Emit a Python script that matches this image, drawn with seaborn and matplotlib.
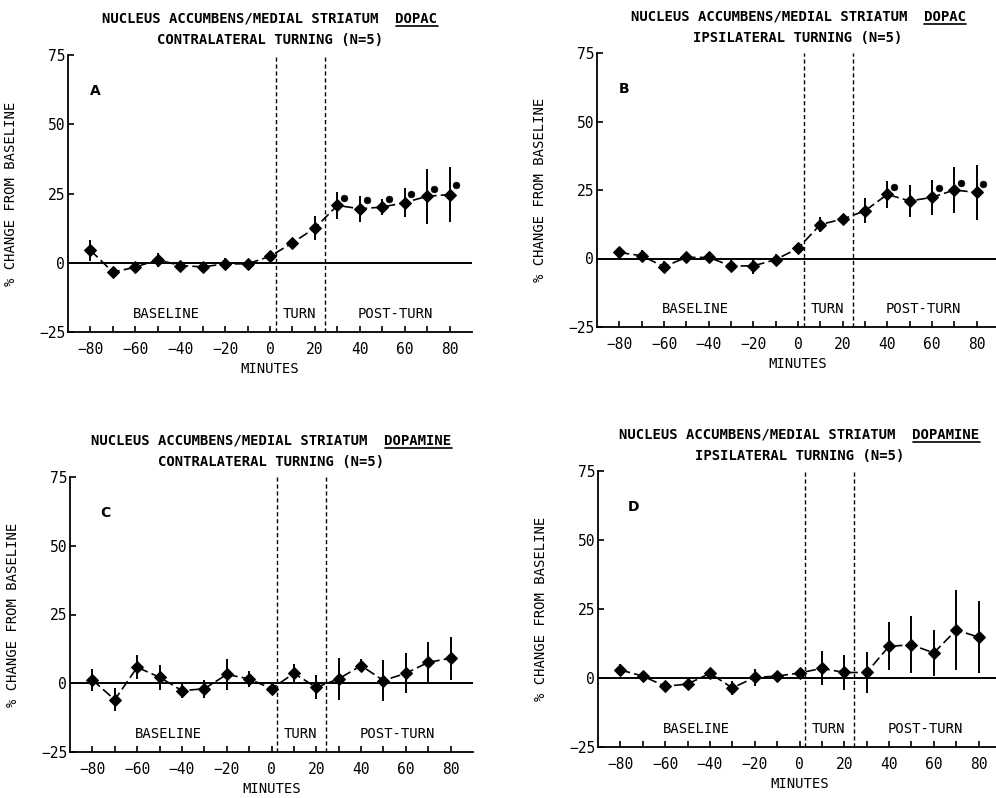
import matplotlib
matplotlib.use("Agg")
import matplotlib.pyplot as plt
import seaborn as sns
import numpy as np
import pandas as pd
from matplotlib.lines import Line2D

# ---------------- data ----------------
minutes = [-80, -70, -60, -50, -40, -30, -20, -10, 0, 10, 20, 30, 40, 50, 60, 70, 80]

a_mean = [4.5, -3.4, -1.6, 1.1, -1.0, -1.5, -0.4, -0.4, 2.3, 7.2, 12.5, 20.7, 19.5, 20.1, 21.7, 24.0, 24.6]
a_err = [3.8, 2.0, 2.0, 2.5, 1.5, 1.0, 2.0, 1.0, 1.0, 1.0, 4.2, 5.0, 4.7, 3.0, 5.2, 10.0, 10.0]
a_sig_x = [33, 43, 53, 63, 73, 83]
a_sig_y = [23.4, 22.5, 23.1, 24.9, 26.5, 28.0]

b_mean = [2.2, 1.0, -3.0, 0.4, 0.4, -2.7, -2.7, -0.4, 3.7, 12.4, 14.4, 17.4, 23.4, 21.0, 22.3, 25.0, 24.1]
b_err = [2.0, 2.0, 2.0, 1.0, 2.0, 2.0, 3.0, 2.0, 2.0, 2.8, 1.0, 4.5, 4.9, 6.0, 6.5, 8.3, 10.0]
b_sig_x = [43, 63, 73, 83]
b_sig_y = [26.2, 25.6, 27.7, 27.3]

c_mean = [1.2, -6.0, 5.8, 2.2, -2.7, -2.0, 3.2, 1.6, -2.0, 3.6, -1.5, 1.6, 6.4, 1.0, 3.6, 7.6, 9.1]
c_err = [4.0, 4.2, 4.3, 4.5, 2.5, 3.3, 5.7, 3.0, 2.0, 3.4, 4.4, 7.7, 2.4, 7.4, 7.3, 7.3, 7.9]

d_mean = [2.9, 0.7, -3.0, -2.2, 1.7, -3.6, 0.2, 0.7, 1.8, 3.5, 2.0, 2.0, 11.5, 12.0, 9.1, 17.4, 14.8]
d_err = [2.0, 2.0, 1.5, 2.0, 2.0, 2.5, 3.0, 2.0, 1.5, 6.2, 6.2, 7.3, 8.7, 10.3, 8.4, 14.6, 13.0]

panel_letters = ["A", "B", "C", "D"]
title_prefix = "NUCLEUS ACCUMBENS/MEDIAL STRIATUM  "
title_compounds = ["DOPAC", "DOPAC", "DOPAMINE", "DOPAMINE"]
title_line2 = ["CONTRALATERAL TURNING (N=5)", "IPSILATERAL TURNING (N=5)",
               "CONTRALATERAL TURNING (N=5)", "IPSILATERAL TURNING (N=5)"]
phase_labels = ["BASELINE", "TURN", "POST-TURN"]
phase_x = [-46, 13, 56]
phase_bounds = [2.5, 24.5]
y_ticks = [-25, 0, 25, 50, 75]
x_ticks = [-80, -60, -40, -20, 0, 20, 40, 60, 80]
y_label = "% CHANGE FROM BASELINE"
x_label = "MINUTES"

# ---------------- style ----------------
sns.set_style("ticks")
plt.rcParams['font.family'] = ['DejaVu Sans Mono', 'DejaVu Sans']
plt.rcParams['axes.linewidth'] = 1.3
for k in ['text.color', 'axes.labelcolor', 'xtick.color', 'ytick.color', 'axes.edgecolor']:
    plt.rcParams[k] = 'black'

W, H = 996, 798
fig = plt.figure(figsize=(W / 100, H / 100), dpi=100)

# axes boxes in pixels: left, right, top, bottom
boxes = [(68, 472, 55, 332), (597, 999, 53, 327), (70, 473, 477, 752), (598, 1001, 471, 747)]
means = [a_mean, b_mean, c_mean, d_mean]
errs = [a_err, b_err, c_err, d_err]
sigs = [(a_sig_x, a_sig_y), (b_sig_x, b_sig_y), None, None]

renderer = fig.canvas.get_renderer()
for i in range(4):
    l, r, t, b = boxes[i]
    ax = fig.add_axes([l / W, 1 - b / H, (r - l) / W, (b - t) / H])
    df = pd.DataFrame({"minutes": minutes, "change": means[i], "err": errs[i]})
    ax.errorbar(df["minutes"], df["change"], yerr=df["err"], fmt='none',
                ecolor='black', elinewidth=1.4, capsize=0, zorder=3)
    sns.lineplot(data=df, x="minutes", y="change", ax=ax, color='black',
                 marker='D', markersize=6.5, markeredgecolor='black',
                 linestyle=(0, (6, 2.5)), linewidth=1.2, errorbar=None, zorder=4)
    if sigs[i] is not None:
        sdf = pd.DataFrame({"x": sigs[i][0], "y": sigs[i][1]})
        sns.scatterplot(data=sdf, x="x", y="y", ax=ax, color='black', s=24,
                        edgecolor='black', zorder=5)
    ax.axhline(0, color='black', linewidth=1.4, zorder=2)
    for xb in phase_bounds:
        ax.axvline(xb, color='black', linewidth=1.0, linestyle=(0, (3, 2)), zorder=2)
    ax.set_xlim(-90, 90)
    ax.set_ylim(-25, 75)
    ax.set_xticks(x_ticks)
    ax.set_xticks(np.arange(-80, 81, 10), minor=True)
    ax.set_yticks(y_ticks)
    ax.tick_params(axis='both', which='both', direction='in', length=4, width=1.2,
                   labelsize=10.5, color='black')
    ax.tick_params(axis='x', which='major', pad=7)
    ax.tick_params(axis='y', which='major', pad=2)
    sns.despine(ax=ax)
    ax.set_xlabel(x_label, fontsize=10)
    ax.set_ylabel(y_label, fontsize=10)
    ax.xaxis.set_label_coords(0.5, -0.11)
    ax.yaxis.set_label_coords(-0.124, 0.5)
    for lab, px in zip(phase_labels, phase_x):
        ax.text(px, -18.5, lab, ha='center', va='center', fontsize=10)
    ax.text(-78 if i < 2 else -74, 62, panel_letters[i], ha='center', va='center',
            fontsize=10, fontweight='bold', family='DejaVu Sans')
    # titles
    cx = (l + r) / 2 / W
    full = title_prefix + title_compounds[i]
    t1 = fig.text(cx, 1 - (t - 37) / H, full, ha='center', va='center',
                  fontsize=10, fontweight='bold')
    fig.text(cx, 1 - (t - 15) / H, title_line2[i], ha='center', va='center',
             fontsize=10, fontweight='bold')
    bb = t1.get_window_extent(renderer=renderer)
    n = len(full)
    x0 = bb.x0 + bb.width * len(title_prefix) / n
    x1 = bb.x1
    yl = bb.y0 - 1
    fig.add_artist(Line2D([x0 / W, x1 / W], [yl / H, yl / H], color='black',
                          linewidth=1.2, transform=fig.transFigure))

fig.savefig("out.png", dpi=100)
